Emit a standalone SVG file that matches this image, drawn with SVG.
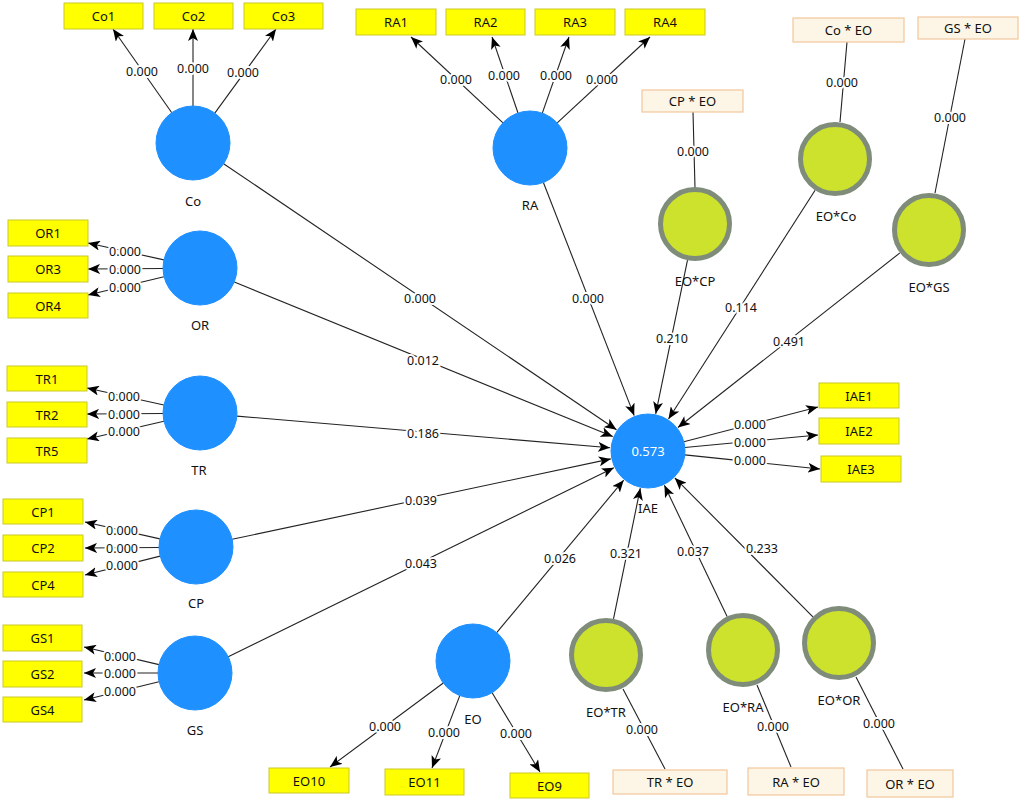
<svg xmlns="http://www.w3.org/2000/svg" width="1021" height="801" viewBox="0 0 1021 801">
<defs>
<marker id="arr" viewBox="0 0 12 10" refX="12" refY="5" markerWidth="12" markerHeight="10" markerUnits="userSpaceOnUse" orient="auto">
<path d="M0,0 L12,5 L0,10 L3,5 Z" fill="#000"/>
</marker>
<style>
text{font-family:"Noto Sans","Liberation Sans",sans-serif;font-size:13px;fill:#111;text-anchor:middle;dominant-baseline:central}
.lv{stroke:#1e90ff;stroke-width:1;fill:#1e90ff}
.iv{fill:#cde22d;stroke:#7f8c7a;stroke-width:5}
.ind{fill:#ffff00;stroke:#c9c92a;stroke-width:1}
.mod{fill:#fdf6e6;stroke:#f2c79c;stroke-width:1.2}
.c line{stroke:#222;stroke-width:1.1;fill:none}
.c .a{marker-end:url(#arr)}
.pl{font-size:12.5px;stroke:#fff;stroke-width:4;paint-order:stroke;fill:#111}
.nl{font-size:13px}
.wt{fill:#fff}
</style>
</defs>
<rect width="1021" height="801" fill="#fff"/>

<g id="connectors" class="c">
<!-- structural paths to IAE -->
<line class="a" x1="223.6" y1="163.7" x2="616.5" y2="429.7"/>
<line class="a" x1="234.3" y1="282" x2="612.8" y2="436.6"/>
<line class="a" x1="236.9" y1="416.1" x2="610.1" y2="447.8"/>
<line class="a" x1="232.2" y1="539.3" x2="610.8" y2="458.9"/>
<line class="a" x1="228.2" y1="656.7" x2="613.9" y2="467.7"/>
<line class="a" x1="543.4" y1="182.5" x2="634.2" y2="415.6"/>
<line class="a" x1="687.5" y1="260.2" x2="655.7" y2="413.8"/>
<line class="a" x1="815.1" y1="190.2" x2="668.5" y2="419"/>
<line class="a" x1="899.9" y1="252.9" x2="677.9" y2="427.5"/>
<line class="a" x1="496.7" y1="632.6" x2="623.7" y2="480.2"/>
<line class="a" x1="613.5" y1="618.8" x2="640.3" y2="488.2"/>
<line class="a" x1="727.1" y1="616.6" x2="664.4" y2="485.3"/>
<line class="a" x1="812.9" y1="616.8" x2="674.8" y2="477.9"/>
<!-- Co indicators -->
<line class="a" x1="171.8" y1="112.7" x2="113" y2="29"/>
<line class="a" x1="193" y1="106" x2="193" y2="29"/>
<line class="a" x1="214.8" y1="113.1" x2="276" y2="29"/>
<!-- RA indicators -->
<line class="a" x1="503" y1="122.8" x2="411" y2="37"/>
<line class="a" x1="518" y1="113" x2="492" y2="37"/>
<line class="a" x1="542.3" y1="113.1" x2="569" y2="37"/>
<line class="a" x1="557.2" y1="122.9" x2="650" y2="37"/>
<!-- OR indicators -->
<line class="a" x1="163.9" y1="259.9" x2="88" y2="243"/>
<line class="a" x1="163" y1="268.5" x2="88" y2="269"/>
<line class="a" x1="164" y1="276.7" x2="88" y2="295"/>
<!-- TR indicators -->
<line class="a" x1="163.9" y1="405" x2="87" y2="388"/>
<line class="a" x1="163" y1="413.5" x2="87" y2="414"/>
<line class="a" x1="164" y1="421.3" x2="87" y2="439"/>
<!-- CP indicators -->
<line class="a" x1="159.9" y1="538.9" x2="85" y2="522"/>
<line class="a" x1="159" y1="547.5" x2="85" y2="548"/>
<line class="a" x1="160.1" y1="556.1" x2="85" y2="575"/>
<!-- GS indicators -->
<line class="a" x1="159" y1="664.6" x2="84" y2="647"/>
<line class="a" x1="158" y1="673" x2="84" y2="673"/>
<line class="a" x1="159" y1="681.7" x2="84" y2="700"/>
<!-- IAE indicators -->
<line class="a" x1="683.8" y1="441.7" x2="818" y2="407"/>
<line class="a" x1="684.8" y1="447.5" x2="818" y2="435"/>
<line class="a" x1="684.8" y1="454.9" x2="820" y2="469"/>
<!-- EO indicators -->
<line class="a" x1="443.3" y1="683" x2="330" y2="767"/>
<line class="a" x1="459.8" y1="695.6" x2="432" y2="768"/>
<line class="a" x1="492.1" y1="692.7" x2="540" y2="772"/>
<!-- interaction indicators -->
<line x1="693" y1="112" x2="695" y2="188"/>
<line x1="847" y1="42" x2="840" y2="122"/>
<line x1="965" y1="39" x2="935" y2="193"/>
<line x1="665" y1="769" x2="623" y2="689"/>
<line x1="791" y1="767" x2="757" y2="685"/>
<line x1="903" y1="769" x2="856" y2="677"/>
</g>

<g id="path-labels">
<text class="pl" x="420" y="298">0.000</text>
<text class="pl" x="423" y="360">0.012</text>
<text class="pl" x="423" y="433">0.186</text>
<text class="pl" x="421" y="500">0.039</text>
<text class="pl" x="421" y="563">0.043</text>
<text class="pl" x="588" y="298">0.000</text>
<text class="pl" x="672" y="338">0.210</text>
<text class="pl" x="741" y="307">0.114</text>
<text class="pl" x="789" y="341">0.491</text>
<text class="pl" x="560" y="558">0.026</text>
<text class="pl" x="626" y="553">0.321</text>
<text class="pl" x="693" y="551">0.037</text>
<text class="pl" x="762" y="548">0.233</text>
<text class="pl" x="142" y="71">0.000</text>
<text class="pl" x="193" y="68">0.000</text>
<text class="pl" x="243" y="72">0.000</text>
<text class="pl" x="456" y="79">0.000</text>
<text class="pl" x="504" y="75">0.000</text>
<text class="pl" x="556" y="75">0.000</text>
<text class="pl" x="602" y="79">0.000</text>
<text class="pl" x="125" y="251">0.000</text>
<text class="pl" x="125" y="269">0.000</text>
<text class="pl" x="125" y="287">0.000</text>
<text class="pl" x="124" y="396">0.000</text>
<text class="pl" x="124" y="414">0.000</text>
<text class="pl" x="124" y="431">0.000</text>
<text class="pl" x="122" y="530">0.000</text>
<text class="pl" x="122" y="548">0.000</text>
<text class="pl" x="122" y="565">0.000</text>
<text class="pl" x="120" y="656">0.000</text>
<text class="pl" x="120" y="673">0.000</text>
<text class="pl" x="120" y="691">0.000</text>
<text class="pl" x="750" y="424">0.000</text>
<text class="pl" x="750" y="442">0.000</text>
<text class="pl" x="750" y="460">0.000</text>
<text class="pl" x="385" y="726">0.000</text>
<text class="pl" x="444" y="732">0.000</text>
<text class="pl" x="516" y="733">0.000</text>
<text class="pl" x="693" y="151">0.000</text>
<text class="pl" x="842" y="82">0.000</text>
<text class="pl" x="950" y="117">0.000</text>
<text class="pl" x="642" y="729">0.000</text>
<text class="pl" x="773" y="726">0.000</text>
<text class="pl" x="879" y="723">0.000</text>
</g>

<!-- latent variables -->
<g id="Co"><circle class="lv" cx="193" cy="143" r="37"/><text x="193" y="201">Co</text></g>
<g id="RA"><circle class="lv" cx="530" cy="148" r="37"/><text x="530" y="205">RA</text></g>
<g id="OR"><circle class="lv" cx="200" cy="268" r="37"/><text x="200" y="325">OR</text></g>
<g id="TR"><circle class="lv" cx="200" cy="413" r="37"/><text x="199" y="470">TR</text></g>
<g id="CP"><circle class="lv" cx="196" cy="547" r="37"/><text x="196" y="603">CP</text></g>
<g id="GS"><circle class="lv" cx="195" cy="673" r="37"/><text x="195" y="730">GS</text></g>
<g id="EO"><circle class="lv" cx="473" cy="661" r="37"/><text x="473" y="719">EO</text></g>
<g id="IAE"><circle class="lv" cx="648" cy="451" r="37"/><text class="wt" x="648" y="451">0.573</text><text x="648" y="508">IAE</text></g>

<!-- interaction terms -->
<g id="EO_CP"><circle class="iv" cx="695" cy="224" r="34.5"/><text x="695" y="281">EO*CP</text></g>
<g id="EO_Co"><circle class="iv" cx="835" cy="159" r="34.5"/><text x="836" y="216">EO*Co</text></g>
<g id="EO_GS"><circle class="iv" cx="929" cy="230" r="34.5"/><text x="929" y="287">EO*GS</text></g>
<g id="EO_TR"><circle class="iv" cx="606" cy="655" r="34.5"/><text x="606" y="712">EO*TR</text></g>
<g id="EO_RA"><circle class="iv" cx="743" cy="650" r="34.5"/><text x="743" y="707">EO*RA</text></g>
<g id="EO_OR"><circle class="iv" cx="839" cy="643" r="34.5"/><text x="839" y="700">EO*OR</text></g>

<!-- indicators -->
<g id="Co1"><rect class="ind" x="64" y="3" width="79" height="26"/><text x="103.5" y="16">Co1</text></g>
<g id="Co2"><rect class="ind" x="154" y="3" width="79" height="26"/><text x="193.5" y="16">Co2</text></g>
<g id="Co3"><rect class="ind" x="244" y="3" width="79" height="26"/><text x="283.5" y="16">Co3</text></g>
<g id="RA1"><rect class="ind" x="356" y="9" width="80" height="26"/><text x="396" y="22">RA1</text></g>
<g id="RA2"><rect class="ind" x="446" y="9" width="79" height="26"/><text x="485.5" y="22">RA2</text></g>
<g id="RA3"><rect class="ind" x="535" y="9" width="80" height="26"/><text x="575" y="22">RA3</text></g>
<g id="RA4"><rect class="ind" x="625" y="9" width="80" height="26"/><text x="665" y="22">RA4</text></g>
<g id="OR1"><rect class="ind" x="8" y="220" width="80" height="26"/><text x="48" y="233">OR1</text></g>
<g id="OR3"><rect class="ind" x="8" y="256" width="80" height="26"/><text x="48" y="269">OR3</text></g>
<g id="OR4"><rect class="ind" x="8" y="293" width="80" height="25"/><text x="48" y="305.5">OR4</text></g>
<g id="TR1"><rect class="ind" x="7" y="366" width="80" height="25"/><text x="47" y="378.5">TR1</text></g>
<g id="TR2"><rect class="ind" x="7" y="402" width="80" height="25"/><text x="47" y="414.5">TR2</text></g>
<g id="TR5"><rect class="ind" x="7" y="438" width="80" height="25"/><text x="47" y="450.5">TR5</text></g>
<g id="CP1"><rect class="ind" x="3" y="499" width="80" height="25"/><text x="43" y="511.5">CP1</text></g>
<g id="CP2"><rect class="ind" x="3" y="535" width="80" height="26"/><text x="43" y="548">CP2</text></g>
<g id="CP4"><rect class="ind" x="3" y="572" width="80" height="25"/><text x="43" y="584.5">CP4</text></g>
<g id="GS1"><rect class="ind" x="3" y="625" width="79" height="26"/><text x="42.5" y="638">GS1</text></g>
<g id="GS2"><rect class="ind" x="3" y="661" width="79" height="26"/><text x="42.5" y="674">GS2</text></g>
<g id="GS4"><rect class="ind" x="3" y="697" width="79" height="25"/><text x="42.5" y="709.5">GS4</text></g>
<g id="IAE1"><rect class="ind" x="819" y="383" width="80" height="25"/><text x="859" y="395.5">IAE1</text></g>
<g id="IAE2"><rect class="ind" x="819" y="418" width="80" height="26"/><text x="859" y="431">IAE2</text></g>
<g id="IAE3"><rect class="ind" x="821" y="456" width="80" height="26"/><text x="861" y="469">IAE3</text></g>
<g id="EO10"><rect class="ind" x="269" y="768" width="80" height="25"/><text x="309" y="780.5">EO10</text></g>
<g id="EO11"><rect class="ind" x="385" y="769" width="79" height="26"/><text x="424.5" y="782">EO11</text></g>
<g id="EO9"><rect class="ind" x="510" y="773" width="79" height="25"/><text x="549.5" y="785.5">EO9</text></g>

<!-- moderator indicators -->
<g id="CPxEO"><rect class="mod" x="642" y="90" width="101" height="22"/><text x="692.5" y="101">CP * EO</text></g>
<g id="CoxEO"><rect class="mod" x="793" y="18" width="111" height="24"/><text x="848.5" y="30">Co * EO</text></g>
<g id="GSxEO"><rect class="mod" x="918" y="17" width="100" height="22"/><text x="968" y="28">GS * EO</text></g>
<g id="TRxEO"><rect class="mod" x="613" y="770" width="114" height="24"/><text x="670" y="782">TR * EO</text></g>
<g id="RAxEO"><rect class="mod" x="748" y="768" width="96" height="27"/><text x="796" y="781.5">RA * EO</text></g>
<g id="ORxEO"><rect class="mod" x="867" y="770" width="86" height="27"/><text x="910" y="783.5">OR * EO</text></g>
</svg>
